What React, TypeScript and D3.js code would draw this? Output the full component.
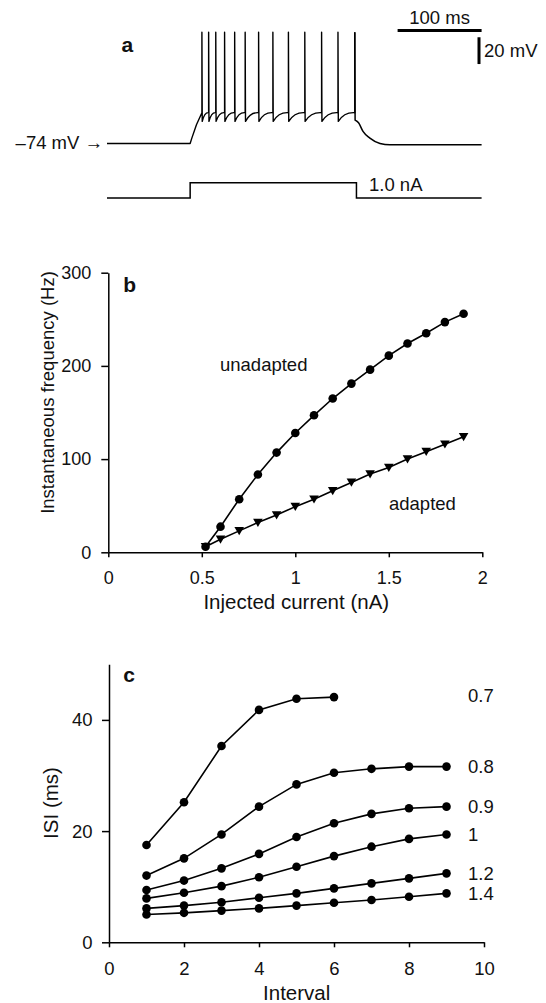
import React, { useEffect, useRef } from 'react';
import * as d3 from 'd3';

const FONT = '"Liberation Sans", Arial, Helvetica, sans-serif';

// ---- panel a: membrane potential and current step ----
const traceEnd = 446; // ms
const stimOn = 99; // ms
const stimOff = 297; // ms
const stimAmp = 1.0; // nA
const vRest = -74; // mV
const vThresh = -51;
const vReset = -57.5;
const vPeak = 9;
const spikeTimes = [113, 121, 129.5, 140, 152, 164.5, 180.5, 197.5, 216, 235.5, 255.5, 275, 295];
const riseTrace = [[99, -74], [101, -70], [106.5, -60], [113, -51]];
const decayTrace = [[295.4, -56.5], [299.5, -58.5], [304.8, -65], [313, -70], [325, -74], [337, -75], [446, -75]];
const currentTrace = [[0, 0], [stimOn, 0], [stimOn, stimAmp], [stimOff, stimAmp], [stimOff, 0], [traceEnd, 0]];

// ---- panel b: f-I curves ----
const injected = [0.52, 0.6, 0.7, 0.8, 0.9, 1.0, 1.1, 1.2, 1.3, 1.4, 1.5, 1.6, 1.7, 1.8, 1.9];
const unadaptedHz = [6, 27.5, 57, 83.5, 107, 128, 147, 165, 181, 196, 211, 224, 235, 247, 256];
const adaptedHz = [6, 14, 23, 32, 40, 49, 57, 66, 75, 84, 91, 100, 108, 116, 124];
const bXTicks = [0, 0.5, 1, 1.5, 2];
const bYTicks = [0, 100, 200, 300];

// ---- panel c: ISI vs interval number ----
const intervals = [1, 2, 3, 4, 5, 6, 7, 8, 9];
const isi07 = [17.5, 25.2, 35.3, 41.8, 43.8, 44.1];
const isi08 = [12.0, 15.1, 19.4, 24.4, 28.4, 30.5, 31.2, 31.6, 31.6];
const isi09 = [9.4, 11.1, 13.3, 15.9, 18.95, 21.4, 23.1, 24.1, 24.4];
const isi10 = [7.9, 8.9, 10.1, 11.7, 13.6, 15.5, 17.2, 18.6, 19.4];
const isi12 = [6.1, 6.6, 7.2, 8.0, 8.8, 9.7, 10.6, 11.5, 12.4];
const isi14 = [5.0, 5.3, 5.7, 6.1, 6.6, 7.1, 7.6, 8.2, 8.8];
const cLabels = ['0.7', '0.8', '0.9', '1', '1.2', '1.4'];
const cXTicks = [0, 2, 4, 6, 8, 10];
const cYTicks = [0, 20, 40];

const App = () => {
  const svgRef = useRef(null);

  useEffect(() => {
    const svg = d3.select(svgRef.current);
    svg.selectAll('*').remove();

    const styleAxis = (g, size) => {
      g.attr('font-family', null).attr('font-size', null);
      g.select('.domain').attr('stroke', '#000').attr('stroke-width', 1.5);
      g.selectAll('.tick line').attr('stroke', '#000').attr('stroke-width', 1.5);
      g.selectAll('.tick text')
        .attr('fill', '#111')
        .style('font-family', FONT)
        .style('font-size', `${size}px`);
    };

    const text = (x, y, str, size, opts = {}) => {
      const t = svg.append('text')
        .attr('x', x)
        .attr('y', y)
        .attr('fill', '#111')
        .style('font-family', FONT)
        .style('font-size', `${size}px`)
        .text(str);
      if (opts.bold) t.style('font-weight', 'bold');
      if (opts.anchor) t.attr('text-anchor', opts.anchor);
      if (opts.rotate) t.attr('transform', `rotate(-90,${x},${y})`);
      return t;
    };

    // ================= panel a =================
    const t = d3.scaleLinear().domain([0, traceEnd]).range([107, 481.6]);
    const v = d3.scaleLinear().domain([vRest, vPeak]).range([143.5, 32.3]);
    const cur = d3.scaleLinear().domain([0, stimAmp]).range([198, 182.7]);

    // membrane trace: rest -> ramp -> spikes with scalloped interspike rises -> decay
    const p = d3.path();
    p.moveTo(t(0), v(vRest));
    riseTrace.forEach(([tt, vv]) => p.lineTo(t(tt), v(vv)));
    spikeTimes.forEach((s, i) => {
      p.lineTo(t(s), v(vPeak));
      if (i < spikeTimes.length - 1) {
        const next = spikeTimes[i + 1];
        p.lineTo(t(s + 0.4), v(vReset));
        const dt = next - s;
        p.quadraticCurveTo(t(s + 0.4 + dt * 0.35), v(vThresh + 0.5), t(next), v(vThresh));
      }
    });
    const decayLine = d3.line()
      .x(d => t(d[0]))
      .y(d => v(d[1]))
      .curve(d3.curveMonotoneX);
    svg.append('path')
      .attr('d', p.toString())
      .attr('fill', 'none')
      .attr('stroke', '#000')
      .attr('stroke-width', 1.4)
      .attr('stroke-linejoin', 'round');
    svg.append('path')
      .attr('d', `M${t(spikeTimes[spikeTimes.length - 1])},${v(vPeak)}L` + decayLine(decayTrace).slice(1))
      .attr('fill', 'none')
      .attr('stroke', '#000')
      .attr('stroke-width', 1.5);

    // current step
    svg.append('path')
      .attr('d', d3.line().x(d => t(d[0])).y(d => cur(d[1]))(currentTrace))
      .attr('fill', 'none')
      .attr('stroke', '#000')
      .attr('stroke-width', 1.5);

    // scale bars
    svg.append('line')
      .attr('x1', t(traceEnd - 100)).attr('x2', t(traceEnd))
      .attr('y1', v(10.4)).attr('y2', v(10.4))
      .attr('stroke', '#000').attr('stroke-width', 3);
    svg.append('line')
      .attr('x1', t(traceEnd) - 2.6).attr('x2', t(traceEnd) - 2.6)
      .attr('y1', v(5.3)).attr('y2', v(-14.7))
      .attr('stroke', '#000').attr('stroke-width', 3);

    text(t(traceEnd - 50), 24, '100 ms', 18.5, { anchor: 'middle' });
    text(484, 56.5, '20 mV', 18.5);
    text(121.5, 51.7, 'a', 21, { bold: true });
    text(103, 148.5, '\u201374 mV \u2192', 18.5, { anchor: 'end' });
    text(369, 190.7, '1.0 nA', 18.5);

    // ================= panel b =================
    const xB = d3.scaleLinear().domain([0, 2]).range([108.3, 482.3]);
    const yB = d3.scaleLinear().domain([0, 300]).range([552.3, 272.7]);

    svg.append('g')
      .attr('transform', `translate(0,${yB(0)})`)
      .call(d3.axisBottom(xB).tickValues(bXTicks).tickSize(5).tickPadding(14.4).tickSizeOuter(0).tickFormat(d => String(d)))
      .call(g => styleAxis(g, 18));
    svg.append('g')
      .attr('transform', `translate(${xB(0)},0)`)
      .call(d3.axisLeft(yB).tickValues(bYTicks).tickSize(7).tickPadding(10).tickSizeOuter(0).tickFormat(d => String(d)))
      .call(g => styleAxis(g, 18));

    const lineB = d3.line().x(d => xB(d[0])).y(d => yB(d[1]));
    const unadapted = injected.map((c, i) => [c, unadaptedHz[i]]);
    const adapted = injected.map((c, i) => [c, adaptedHz[i]]);

    svg.append('path').attr('d', lineB(unadapted)).attr('fill', 'none').attr('stroke', '#000').attr('stroke-width', 1.6);
    svg.append('path').attr('d', lineB(adapted)).attr('fill', 'none').attr('stroke', '#000').attr('stroke-width', 1.6);

    svg.append('g').selectAll('circle').data(unadapted).join('circle')
      .attr('cx', d => xB(d[0])).attr('cy', d => yB(d[1])).attr('r', 4.3).attr('fill', '#000');
    svg.append('g').selectAll('path').data(adapted).join('path')
      .attr('d', 'M-4.8,-3.8L4.8,-3.8L0,4.4Z')
      .attr('transform', d => `translate(${xB(d[0])},${yB(d[1])})`)
      .attr('fill', '#000');

    text(220, 371, 'unadapted', 18.5);
    text(389, 510, 'adapted', 18.5);
    text(123.3, 291.7, 'b', 21, { bold: true });
    text(296.3, 608.5, 'Injected current (nA)', 20.5, { anchor: 'middle' });
    text(53.5, 392.5, 'Instantaneous frequency (Hz)', 18.5, { anchor: 'middle', rotate: true });

    // ================= panel c =================
    const xC = d3.scaleLinear().domain([0, 10]).range([109, 484]);
    const yC = d3.scaleLinear().domain([0, 50]).range([942.3, 664.3]);

    svg.append('g')
      .attr('transform', `translate(0,${yC(0)})`)
      .call(d3.axisBottom(xC).tickValues(cXTicks).tickSize(5).tickPadding(14.4).tickSizeOuter(0).tickFormat(d => String(d)))
      .call(g => styleAxis(g, 18.5));
    svg.append('g')
      .attr('transform', `translate(${xC(0)},0)`)
      .call(d3.axisLeft(yC).tickValues(cYTicks).tickSize(7).tickPadding(9.5).tickSizeOuter(0).tickFormat(d => String(d)))
      .call(g => styleAxis(g, 18.5));

    const lineC = d3.line().x(d => xC(d[0])).y(d => yC(d[1]));
    const seriesC = [isi07, isi08, isi09, isi10, isi12, isi14].map((vals, k) => ({
      label: cLabels[k],
      points: vals.map((val, i) => [intervals[i], val]),
    }));

    seriesC.forEach(s => {
      svg.append('path').attr('d', lineC(s.points)).attr('fill', 'none').attr('stroke', '#000').attr('stroke-width', 1.6);
      svg.append('g').selectAll('circle').data(s.points).join('circle')
        .attr('cx', d => xC(d[0])).attr('cy', d => yC(d[1])).attr('r', 4.3).attr('fill', '#000');
      const last = s.points[s.points.length - 1];
      const labelY = s.label === '0.7' ? yC(last[1]) - 1.5 : yC(last[1]);
      text(468, labelY + 6.7, s.label, 18.5);
    });

    text(123.3, 681.7, 'c', 21, { bold: true });
    text(296.7, 1000, 'Interval', 20.5, { anchor: 'middle' });
    text(57.5, 803, 'ISI (ms)', 20.5, { anchor: 'middle', rotate: true });
  }, []);

  return (
    <svg
      ref={svgRef}
      width="546"
      height="1003"
      style={{ position: 'absolute', left: 0, top: 0, background: '#fff', display: 'block' }}
    />
  );
};

export default App;
